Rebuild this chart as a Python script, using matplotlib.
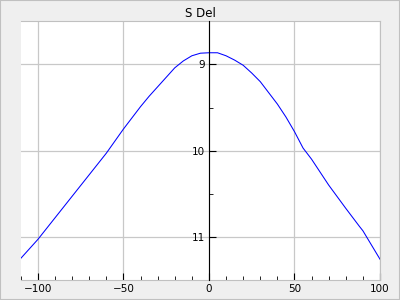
import matplotlib.pyplot as plt
from matplotlib.ticker import MultipleLocator

# curve
xs = [-110, -100, -90, -80, -70, -60, -50, -40, -35, -30, -25, -20, -15, -10,
      -5, 0, 5, 10, 15, 20, 25, 30, 35, 40, 45, 50, 55, 60, 70, 80, 88, 90,
      100]
sdel = [11.25, 11.03, 10.78, 10.53, 10.28, 10.03, 9.75, 9.49, 9.37, 9.26,
        9.15, 9.04, 8.96, 8.90, 8.87, 8.865, 8.865, 8.90, 8.95, 9.01, 9.10,
        9.20, 9.33, 9.46, 9.61, 9.78, 9.97, 10.10, 10.40, 10.67, 10.88,
        10.93, 11.26]
title = "S Del"

fig = plt.figure(figsize=(4, 3), dpi=100, facecolor='#efefef')
ax = fig.add_axes([0.052, 0.067, 0.898, 0.862])
ax.set_facecolor('white')
ax.plot(xs, sdel, color='blue', lw=0.75)

ax.set_xlim(-110, 100)
ax.set_ylim(11.5, 8.5)
ax.set_title(title, fontsize=8.5, pad=3)

ax.xaxis.set_major_locator(MultipleLocator(50))
ax.xaxis.set_minor_locator(MultipleLocator(10))
ax.yaxis.set_major_locator(MultipleLocator(1))
ax.yaxis.set_minor_locator(MultipleLocator(0.5))
ax.grid(True, which='major', color='#c8c8c8', lw=0.9)
ax.set_axisbelow(True)

for s in ['top', 'right', 'bottom']:
    ax.spines[s].set_color('#c0c0c0')
ax.spines['left'].set_position(('data', 0))
ax.spines['left'].set_color('black')
ax.spines['left'].set_zorder(3)

ax.tick_params(axis='both', which='both', direction='in', labelsize=7.5,
               color='black', pad=3)
ax.tick_params(which='major', length=5)
ax.tick_params(which='minor', length=3)
ax.set_xticks([-100, -50, 0, 50, 100])
ax.set_yticks([9, 10, 11])

# thin border round the figure
fig.patches.append(plt.Rectangle((0, 0), 1, 1, transform=fig.transFigure,
                                 fill=False, ec='#c0c0c0', lw=1.5))

fig.savefig('out.png', dpi=100, facecolor=fig.get_facecolor())
